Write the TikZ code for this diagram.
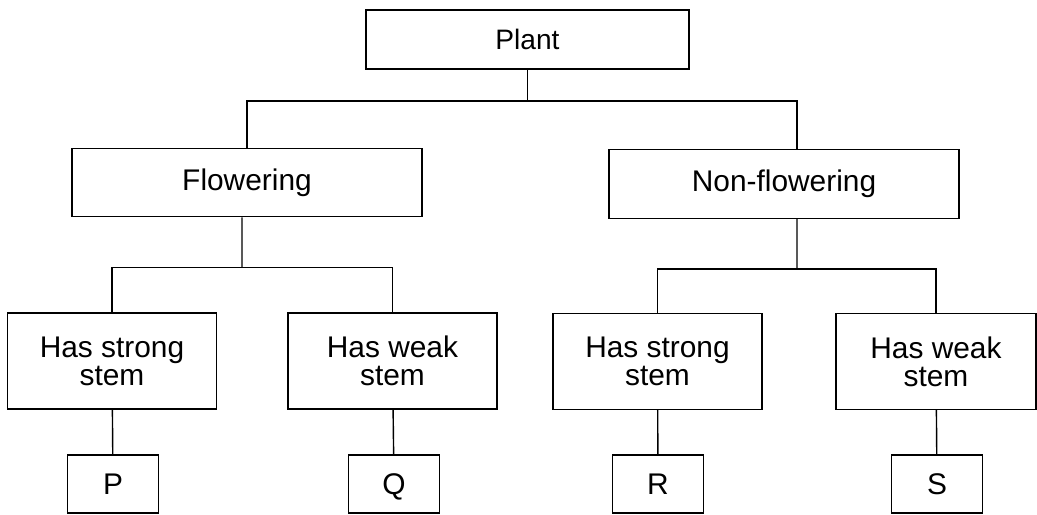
\documentclass[tikz,border=0pt]{standalone}
\usepackage{fontspec}
\setmainfont{Liberation Sans}
\usepackage{xcolor}
\usepackage{tikz}
\usetikzlibrary{calc}

\begin{document}
\begin{tikzpicture}[auto]
%\draw [help lines] (0,0) grid (21,10);
\tikzset{
	boxTop/.style={
  		rectangle,
  		inner sep=0pt,
  		minimum width=64.6mm,
  		align=center,
  		draw=black,
  		line width=0.8pt,
  		font=\fontsize{16}{16}\selectfont,
  		minimum height = 11.8mm
  	},
  	boxMain/.style={
  		rectangle,
  		inner sep=0pt,
  		minimum width=70mm,
  		align=center,
  		draw=black,
  		line width=0.8pt,
  		font=\fontsize{17}{16}\selectfont,
  		minimum height = 13.7mm
  	},
  	boxStem/.style={
  		rectangle,
  		inner sep=0pt,
  		minimum width=41.8mm,
  		align=center,
  		draw=black,
  		line width=0.8pt,
  		font=\fontsize{17}{16}\selectfont,
  		minimum height = 19.2mm
  	},
  	boxLeaf/.style={
  		rectangle,
  		inner sep=0pt,
  		minimum width=18.2mm,
  		align=center,
  		draw=black,
  		line width=0.8pt,
  		text height=12pt,
  		text depth=0pt,
  		font=\fontsize{17}{16}\selectfont,
  		minimum height = 11.6mm
  	},
  	link/.style={
  		line width=0.8pt
  	},
  }
\useasboundingbox (0,0) rectangle (20.74,10.30);

\node (a) [boxTop] at (10.55,9.51) {Plant};
\node (b) [boxMain] at (4.94,6.65) {Flowering};
\node (c) [boxMain] at (15.68,6.62) {Non-flowering};
\node (d) [boxStem] at (2.24,3.08) {Has strong\\ stem};
\node (e) [boxStem] at (7.85,3.08) {Has weak\\ stem};
\node (f) [boxStem] at (13.15,3.07) {Has strong\\ stem};
\node (g) [boxStem, minimum width=40mm] at (18.72,3.07) {Has weak\\ stem};
\node (p) [boxLeaf] at (2.26,0.62) {P};
\node (q) [boxLeaf] at (7.88,0.62) {Q};
\node (r) [boxLeaf] at (13.16,0.62) {R};
\node (s) [boxLeaf] at (18.74,0.62) {S};

\coordinate (j1) at (10.55,8.28);
\coordinate (j2) at (4.84,4.95);
\coordinate (j3) at (15.94,4.92);

\draw [link] (a) -- (j1);
\draw [link] (b.north) |- (j1) -| ([xshift=2.6mm]c.north);
\draw [link] ([xshift=-1mm]b.south) -- (j2);
\draw [link] (d.north) |- (j2) -| (e.north);
\draw [link] ([xshift=2.6mm]c.south) -- (j3);
\draw [link] (f.north) |- (j3) -| (g.north);
\draw [link] (d) -- (p);
\draw [link] (e) -- (q);
\draw [link] (f) -- (r);
\draw [link] (g) -- (s);
\end{tikzpicture}
\end{document}
